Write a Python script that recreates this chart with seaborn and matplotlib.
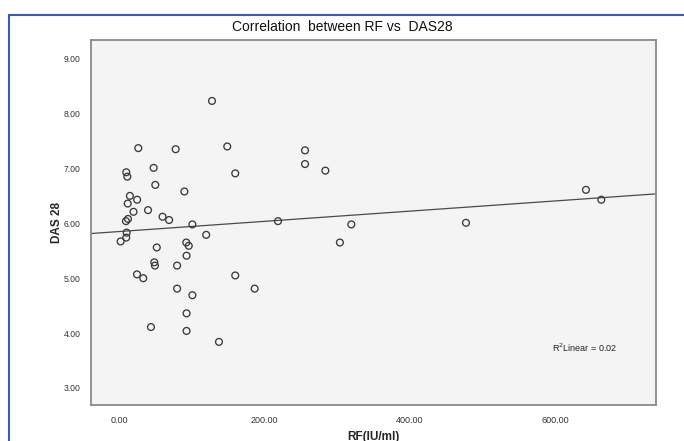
import numpy as np
import pandas as pd
import seaborn as sns
import matplotlib.pyplot as plt
from matplotlib.patches import Rectangle

# RF (IU/ml) vs DAS28
rf = [128, 26.6, 78, 149, 160, 47.7, 10, 11.5, 50, 90,
      15, 25, 12, 40, 20, 60, 69, 12.4, 9.6, 101,
      120, 10.6, 10, 2.3, 52, 92.6, 96, 93, 48.6, 49.5,
      80, 24.8, 33.4, 80, 101, 93, 44, 93, 137.6, 160,
      256, 256, 284, 218.8, 319.7, 304, 186.7, 477.5, 642.6, 663.7]
das28 = [8.23, 7.37, 7.35, 7.40, 6.91, 7.01, 6.93, 6.85, 6.70, 6.58,
         6.50, 6.43, 6.36, 6.24, 6.21, 6.12, 6.06, 6.08, 6.04, 5.98,
         5.79, 5.83, 5.74, 5.67, 5.56, 5.65, 5.59, 5.41, 5.29, 5.23,
         5.23, 5.07, 5.00, 4.81, 4.69, 4.36, 4.11, 4.04, 3.84, 5.05,
         7.33, 7.08, 6.96, 6.04, 5.98, 5.65, 4.81, 6.01, 6.61, 6.43]

x_ticks = [0, 200, 400, 600]
y_ticks = [3, 4, 5, 6, 7, 8, 9]

df = pd.DataFrame({'RF': rf, 'DAS28': das28})

sns.set_style('white')
plt.rcParams['font.family'] = ['Liberation Sans', 'DejaVu Sans']

fig = plt.figure(figsize=(6.84, 4.41), dpi=100)
ax = fig.add_axes([91 / 684, 1 - 405 / 441, 565 / 684, 365 / 441])
ax.set_facecolor('#f4f4f4')
ax.set_xlim(-38.5, 739)
ax.set_ylim(2.69, 9.34)

sns.regplot(
    x='RF', y='DAS28', data=df, ax=ax,
    ci=None, truncate=False,
    scatter_kws=dict(facecolors='none', edgecolors='#3a3a3a', s=24,
                     linewidths=0.95, alpha=1, zorder=3),
    line_kws=dict(color='#4a4a4a', lw=0.9, zorder=2),
)

ax.set_xticks(x_ticks)
ax.set_yticks(y_ticks)
ax.set_xticklabels([f'{v:.2f}' for v in x_ticks])
ax.set_yticklabels([f'{v:.2f}' for v in y_ticks])
ax.tick_params(axis='both', direction='out', length=5, width=1,
               color='#555555', labelcolor='#333333', pad=2.5)
ax.tick_params(axis='x', pad=3, labelsize=6.5)
ax.tick_params(axis='y', labelsize=6.2)
for sp in ax.spines.values():
    sp.set_color('#8a8a8a')
    sp.set_linewidth(1.3)

ax.set_xlabel('RF(IU/ml)', fontsize=8.5, fontweight='bold', va='center')
ax.xaxis.set_label_coords(0.5, (405 - 437) / 365)
ax.set_ylabel('DAS 28', fontsize=8.5, fontweight='bold', va='center')
ax.yaxis.set_label_coords((57 - 91) / 565, 0.5)

ax.text((552 - 91) / 565, (405 - 348) / 365, r'R$^2$Linear = 0.02',
        transform=ax.transAxes, fontsize=6.5, color='#222222',
        ha='left', va='center')

fig.text(0.5, 1 - 27 / 441, 'Correlation  between RF vs  DAS28',
         ha='center', va='center', fontsize=10, color='#111111')

# blue frame around the figure
fig.patches.append(Rectangle((9 / 684, -0.2), 1.2, 1.2 - 15 / 441,
                             transform=fig.transFigure, fill=False,
                             edgecolor='#3a5bb5', linewidth=1.5))

fig.savefig('out.png', dpi=100)
